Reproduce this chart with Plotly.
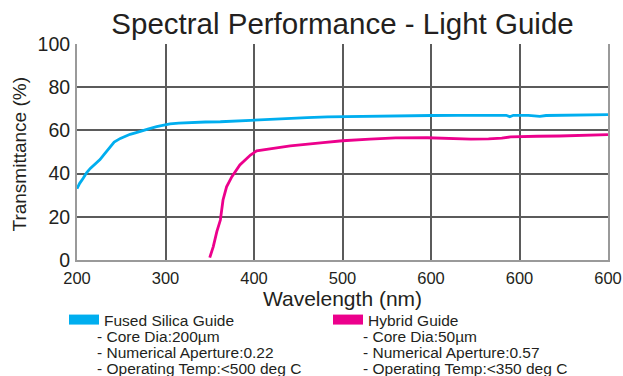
import plotly.graph_objects as go

# ---- data ----
fused_wl = [200, 203, 207, 211, 215, 219, 222, 226, 230, 234, 237, 242, 249, 255, 260, 266, 271,
            280, 290, 298, 305, 315, 328, 345, 362, 380, 399, 420, 440, 460, 483, 510, 540, 570,
            600, 630, 667, 685, 689, 693, 710, 723, 730, 760, 800]
fused_T = [33, 35.5, 37.8, 40.5, 42.4, 43.8, 44.8, 46.5, 48.6, 50.6, 52.4, 54.6, 56.3, 57.4, 58.2, 58.9, 59.4,
           60.6, 61.7, 62.4, 63, 63.4, 63.7, 63.9, 64, 64.4, 64.8, 65.2, 65.6, 65.9, 66.3, 66.5, 66.7, 66.8,
           66.9, 67, 67.1, 67.0, 66.3, 67.0, 67.0, 66.5, 66.9, 67.1, 67.3]

hybrid_wl = [350, 354, 358, 362, 365, 369, 375, 384, 396, 403, 418, 441, 478, 500, 531, 560, 596,
             620, 645, 665, 680, 690, 700, 720, 745, 770, 800]
hybrid_T = [1.1, 6.2, 13.1, 18.5, 27.8, 33.9, 38.6, 44, 48.6, 50.5, 51.5, 52.8, 54.3, 55.2, 56, 56.5, 56.6,
            56.3, 56, 56.1, 56.4, 57, 57.2, 57.3, 57.4, 57.6, 58]

x_tickvals = [200, 300, 400, 500, 600, 700, 800]
x_ticktext = ["200", "300", "400", "500", "600", "600", "600"]
y_tickvals = [0, 20, 40, 60, 80, 100]

series_names = ["Fused Silica Guide", "Hybrid Guide"]
series_details = [
    ["- Core Dia:200µm", "- Numerical Aperture:0.22", "- Operating Temp:<500 deg C"],
    ["- Core Dia:50µm", "- Numerical Aperture:0.57", "- Operating Temp:<350 deg C"],
]
BLUE = "#00aeef"
PINK = "#ec008c"
TEXT = "#231f20"
FONT = "Liberation Sans, Arial, sans-serif"

fig = go.Figure()
fig.add_trace(go.Scatter(x=fused_wl, y=fused_T, mode="lines", line=dict(color=BLUE, width=2.8),
                         showlegend=False, legendgroup="f", name=series_names[0]))
fig.add_trace(go.Scatter(x=hybrid_wl, y=hybrid_T, mode="lines", line=dict(color=PINK, width=2.8),
                         showlegend=False, legendgroup="h", name=series_names[1]))
# legend swatches
fig.add_trace(go.Scatter(x=[None], y=[None], mode="lines", line=dict(color=BLUE, width=10),
                         name=series_names[0], legendgroup="f", legend="legend"))
fig.add_trace(go.Scatter(x=[None], y=[None], mode="lines", line=dict(color=PINK, width=10),
                         name=series_names[1], legendgroup="h", legend="legend2"))

W, H = 623, 376
L, R, T, B = 77, 15, 44, 116
pw, ph = W - L - R, H - T - B


def px_x(p):
    return (p - L) / pw


def px_y(p):
    return (H - B - p) / ph


legend_common = dict(font=dict(family=FONT, size=15.5, color=TEXT), bgcolor="rgba(0,0,0,0)",
                     borderwidth=0, xanchor="left", yanchor="top", itemwidth=30)

annotations = [dict(text="Transmittance (%)", xref="paper", yref="paper", x=px_x(18.5), y=px_y(154),
                    xanchor="center", yanchor="middle", textangle=-90, showarrow=False,
                    font=dict(family=FONT, size=19, color=TEXT))]
sub_x = [95, 361]
for i, lines in enumerate(series_details):
    for j, txt in enumerate(lines):
        annotations.append(dict(text=txt, xref="paper", yref="paper", x=px_x(sub_x[i]), y=px_y(336.5 + 16 * j),
                                xanchor="left", yanchor="middle", showarrow=False,
                                font=dict(family=FONT, size=15.5, color=TEXT)))

fig.update_layout(
    width=W, height=H, autosize=False,
    margin=dict(l=L, r=R, t=T, b=B),
    paper_bgcolor="white", plot_bgcolor="white",
    font=dict(family=FONT, color=TEXT),
    title=dict(text="Spectral Performance - Light Guide", x=0.5, xref="paper", xanchor="center",
               y=1 - 24 / H, yref="container", yanchor="middle",
               font=dict(family=FONT, size=29.5, color=TEXT)),
    legend=dict(x=px_x(64), y=px_y(303), **legend_common),
    legend2=dict(x=px_x(328), y=px_y(303), **legend_common),
    annotations=annotations,
)
fig.update_xaxes(range=[200, 800], tickvals=x_tickvals, ticktext=x_ticktext, automargin=False,
                 showgrid=True, gridcolor="#5b5b5b", gridwidth=2,
                 showline=True, linecolor="#9a9a9a", linewidth=2, mirror=False,
                 ticks="outside", ticklen=2, tickcolor="rgba(0,0,0,0)",
                 tickfont=dict(family=FONT, size=16.5, color=TEXT),
                 title=dict(text="Wavelength (nm)", standoff=2, font=dict(family=FONT, size=21, color=TEXT)),
                 zeroline=False)
fig.update_yaxes(range=[0, 100], tickvals=y_tickvals, automargin=False,
                 showgrid=True, gridcolor="#5b5b5b", gridwidth=2,
                 showline=True, linecolor="#9a9a9a", linewidth=2, mirror=True,
                 ticks="outside", ticklen=1, tickcolor="rgba(0,0,0,0)",
                 tickfont=dict(family=FONT, size=19.5, color=TEXT),
                 zeroline=False)

fig.write_html("out.html", config={"displayModeBar": False},
               post_script="document.body.style.margin='0';")
